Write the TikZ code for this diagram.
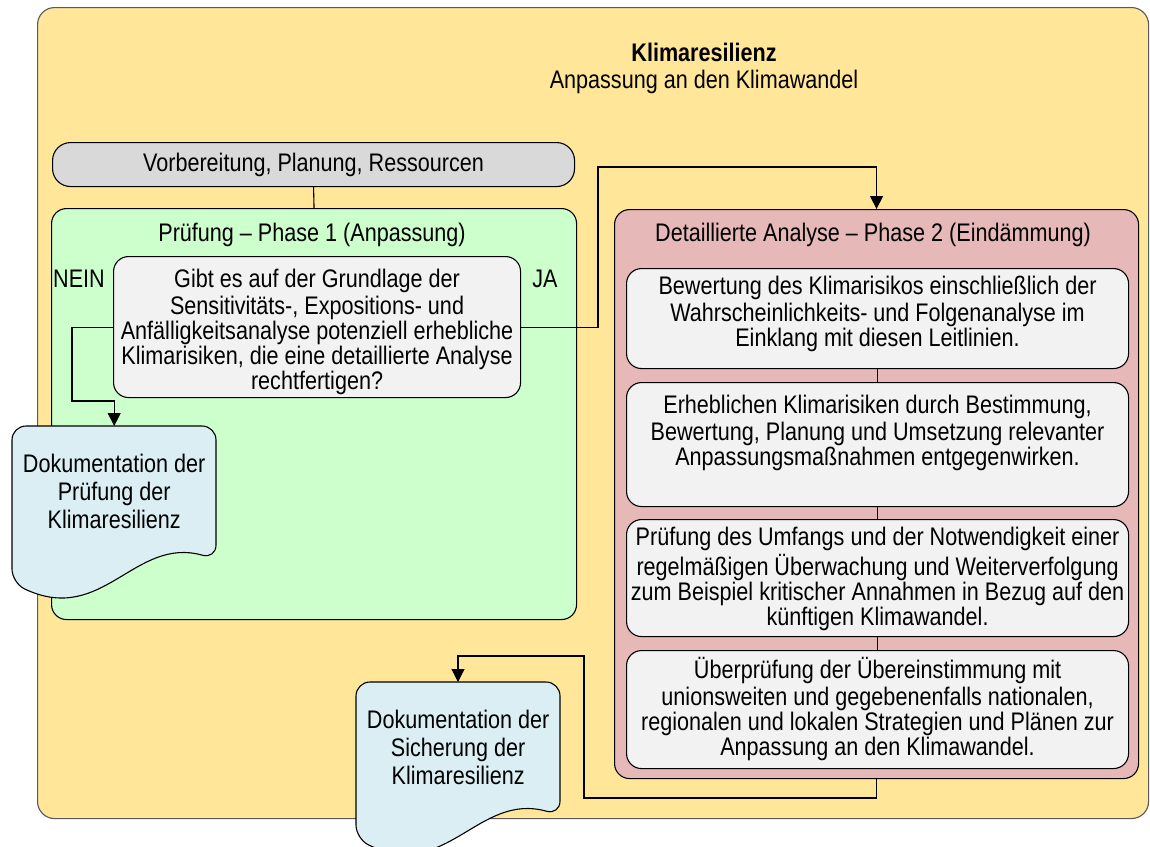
\documentclass[tikz,border=0pt]{standalone}
\usepackage{fontspec}
\setmainfont{Liberation Sans}[FakeStretch=0.85]
\usetikzlibrary{arrows.meta,calc}
\definecolor{outerfill}{HTML}{FFE699}
\definecolor{outerline}{HTML}{595959}
\definecolor{prepfill}{HTML}{D9D9D9}
\definecolor{greenfill}{HTML}{CCFFCC}
\definecolor{pinkfill}{HTML}{E6B8B7}
\definecolor{boxfill}{HTML}{F2F2F2}
\definecolor{docfill}{HTML}{DAEEF3}
\newcommand\boxtext[4]{\parbox[c][#1][t]{#2}{\centering\vspace*{#3}\strut #4\par}}
\newcommand\docshape[2]{%
  \path[docline] (#1,#2+80) -- (#1,#2) -- (#1+204,#2) -- (#1+204,#2+133)
    .. controls (#1+122,#2+110) and (#1+91,#2+200) .. (#1,#2+157) -- cycle;}
\begin{document}
\begin{tikzpicture}[x=1pt,y=-1pt,
  base/.style={font=\fontsize{25.4}{25}\selectfont, inner sep=0pt},
  docfont/.style={font=\fontsize{25.4}{28}\selectfont, inner sep=0pt},
  container/.style={draw=black, line width=1.1pt, rounded corners=15pt, anchor=north west, inner sep=0pt},
  stepbox/.style={base, container, fill=boxfill},
  docline/.style={draw=black, line width=1.1pt, fill=docfill, rounded corners=14pt},
  docnode/.style={docfont, anchor=north west, minimum width=204pt, minimum height=167pt},
  conn/.style={draw=black, line width=1.1pt},
  arr/.style={conn, -{Triangle[width=13pt,length=13pt]}}
]
\useasboundingbox (0,0) rectangle (1150,846);

% outer container
\node (outer) [container, draw=outerline, fill=outerfill, rounded corners=17pt,
  minimum width=1111pt, minimum height=811pt] at (37,7) {};
\node (title) [base, font=\fontsize{25.4}{27}\selectfont, align=center] at (704,68)
  {\textbf{Klimaresilienz}\\Anpassung an den Klimawandel};

% preparation
\node (prep) [base, container, fill=prepfill, rounded corners=18pt,
  minimum width=522pt, minimum height=44pt] at (52,142) {Vorbereitung, Planung, Ressourcen};

% phase 1
\node (phase1) [container, fill=greenfill, minimum width=525pt, minimum height=411pt] at (51,208) {};
\node (p1title) [base] at (312,235) {Prüfung – Phase 1 (Anpassung)};
\node (dec) [stepbox] at (113,256) {\boxtext{141pt}{407pt}{13pt}{Gibt es auf der Grundlage der\\Sensitivitäts-, Expositions- und\\Anfälligkeitsanalyse potenziell erhebliche\\Klimarisiken, die eine detaillierte Analyse\\rechtfertigen?}};
\node (nein) [base] at (79,279) {NEIN};
\node (ja) [base] at (545,279) {JA};

% phase 2
\node (phase2) [container, fill=pinkfill, minimum width=524pt, minimum height=569pt] at (614,209) {};
\node (p2title) [base] at (873,235) {Detaillierte Analyse – Phase 2 (Eindämmung)};
\node (b1) [stepbox] at (626,268) {\boxtext{100pt}{502pt}{8pt}{Bewertung des Klimarisikos einschließlich der\\Wahrscheinlichkeits- und Folgenanalyse im\\Einklang mit diesen Leitlinien.}};
\node (b2) [stepbox] at (626,382) {\boxtext{124pt}{502pt}{13pt}{Erheblichen Klimarisiken durch Bestimmung,\\Bewertung, Planung und Umsetzung relevanter\\Anpassungsmaßnahmen entgegenwirken.}};
\node (b3) [stepbox] at (626,519) {\boxtext{117pt}{502pt}{8pt}{Prüfung des Umfangs und der Notwendigkeit einer\\regelmäßigen Überwachung und Weiterverfolgung\\zum Beispiel kritischer Annahmen in Bezug auf den\\künftigen Klimawandel.}};
\node (b4) [stepbox] at (626,650) {\boxtext{118pt}{502pt}{7pt}{Überprüfung der Übereinstimmung mit\\unionsweiten und gegebenenfalls nationalen,\\regionalen und lokalen Strategien und Plänen zur\\Anpassung an den Klimawandel.}};

% documents
\docshape{12}{426}
\node (doc1) [docnode] at (12,426) {\parbox[c][167pt][t]{204pt}{\centering\vspace*{27pt}\strut Dokumentation der\\Prüfung der\\Klimaresilienz\par}};
\docshape{356}{682}
\node (doc2) [docnode] at (356,682) {\parbox[c][167pt][t]{204pt}{\centering\vspace*{27pt}\strut Dokumentation der\\Sicherung der\\Klimaresilienz\par}};

% connectors
\coordinate (nein1) at (72,401);
\coordinate (ja1) at (598,167);
\coordinate (r1) at (584,798);
\coordinate (r2) at (458,656);
\draw[conn] (prep.south) -- (phase1.north);
\draw[arr] (dec.west) -| (nein1) -- (nein1 -| doc1.north) -- (doc1.north);
\draw[arr] (dec.east) -| (ja1) -| (phase2.north);
\draw[conn] (b1.south) -- (b2.north);
\draw[conn] (b2.south) -- (b3.north);
\draw[conn] (b3.south) -- (b4.north);
\draw[arr] (phase2.south) |- (r1) |- (r2) -- (r2 |- doc2.north);
\end{tikzpicture}
\end{document}
